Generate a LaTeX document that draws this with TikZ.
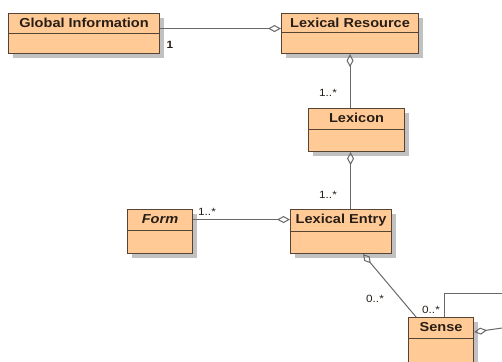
\documentclass[tikz,border=0pt]{standalone}
\usepackage{fontspec}
\setmainfont{Liberation Sans}
\newfontfamily\umlfont[FakeStretch=1.12]{Liberation Sans}
\usetikzlibrary{arrows.meta,shadows}
\definecolor{classfill}{RGB}{255,202,150}
\definecolor{classdraw}{RGB}{85,68,52}
\definecolor{linecol}{RGB}{105,105,105}
\definecolor{txtcol}{RGB}{40,30,22}
\tikzset{
  classbox/.style={draw=classdraw,line width=1.1pt,fill=classfill,anchor=north west,inner sep=0pt,
    drop shadow={shadow xshift=4pt,shadow yshift=-4pt,fill=black!30,opacity=0.8}},
  classname/.style={anchor=center,inner sep=0pt,text=txtcol,font=\umlfont\bfseries\fontsize{13}{15}\selectfont},
  divider/.style={draw=classdraw,line width=1pt},
  assoc/.style={draw=linecol,line width=1pt},
  agg/.style={assoc,{Diamond[open,length=13pt,width=7pt,line width=1pt]}-},
  mult/.style={inner sep=0pt,text=txtcol,font=\umlfont\fontsize{10.5}{12}\selectfont}
}
\begin{document}
\begin{tikzpicture}[x=1pt,y=-1pt]
\useasboundingbox (0,0) rectangle (502,361);
\clip (0,0) rectangle (502,361);
\fill[white] (0,0) rectangle (502,361);
% classes
\node[classbox,minimum width=151pt,minimum height=40pt] (gi) at (8,13) {};
\node[classbox,minimum width=137pt,minimum height=40pt] (lr) at (281,13) {};
\node[classbox,minimum width=96pt,minimum height=43pt] (lx) at (308,108) {};
\node[classbox,minimum width=101pt,minimum height=44pt] (le) at (290,209) {};
\node[classbox,minimum width=65pt,minimum height=44pt] (fo) at (127,209) {};
\node[classbox,minimum width=65pt,minimum height=60pt] (se) at (408,317) {};
% dividers
\draw[divider] (gi.west |- 0,34) -- (gi.east |- 0,34);
\draw[divider] (lr.west |- 0,33) -- (lr.east |- 0,33);
\draw[divider] (lx.west |- 0,129) -- (lx.east |- 0,129);
\draw[divider] (le.west |- 0,231) -- (le.east |- 0,231);
\draw[divider] (fo.west |- 0,230) -- (fo.east |- 0,230);
\draw[divider] (se.west |- 0,338) -- (se.east |- 0,338);
% names
\node[classname] (gin) at (gi.north |- 0,23) {Global Information};
\node[classname] (lrn) at (lr.north |- 0,23) {Lexical Resource};
\node[classname] (lxn) at (lx.north |- 0,118) {Lexicon};
\node[classname] (len) at (le.north |- 0,220) {Lexical Entry};
\node[classname,font=\umlfont\bfseries\itshape\fontsize{13}{15}\selectfont] (fon) at (fo.north |- 0,219) {Form};
\node[classname] (sen) at (se.north |- 0,327) {Sense};
% connectors
\draw[agg] ([yshift=5pt]lr.west) -- ([yshift=5pt]gi.east);
\draw[agg] (lr.south) -- (lr.south |- lx.north);
\draw[agg] ([xshift=-6pt]lx.south) -- ([xshift=-6pt]lx.south |- le.north);
\draw[agg] ([yshift=12pt]le.west) -- ([yshift=12pt]fo.east);
\draw[assoc,{Diamond[open,length=12pt,width=7pt,line width=1pt]}-] ([xshift=22pt]le.south) -- ([xshift=-25pt]se.north);
\coordinate (selfA) at (502,293);
\coordinate (selfB) at (502,328);
\draw[assoc] ([xshift=3.5pt]se.north) |- (selfA);
\draw[agg] ([yshift=15.5pt]se.east) -- (selfB);
% multiplicities
\node[mult,font=\umlfont\bfseries\fontsize{10.5}{12}\selectfont] (m1) at (170,45) {1};
\node[mult] (m2) at (328,93) {1..*};
\node[mult] (m3) at (328,195) {1..*};
\node[mult] (m4) at (207,212) {1..*};
\node[mult] (m5) at (375,299) {0..*};
\node[mult] (m6) at (431,310) {0..*};
\end{tikzpicture}
\end{document}
